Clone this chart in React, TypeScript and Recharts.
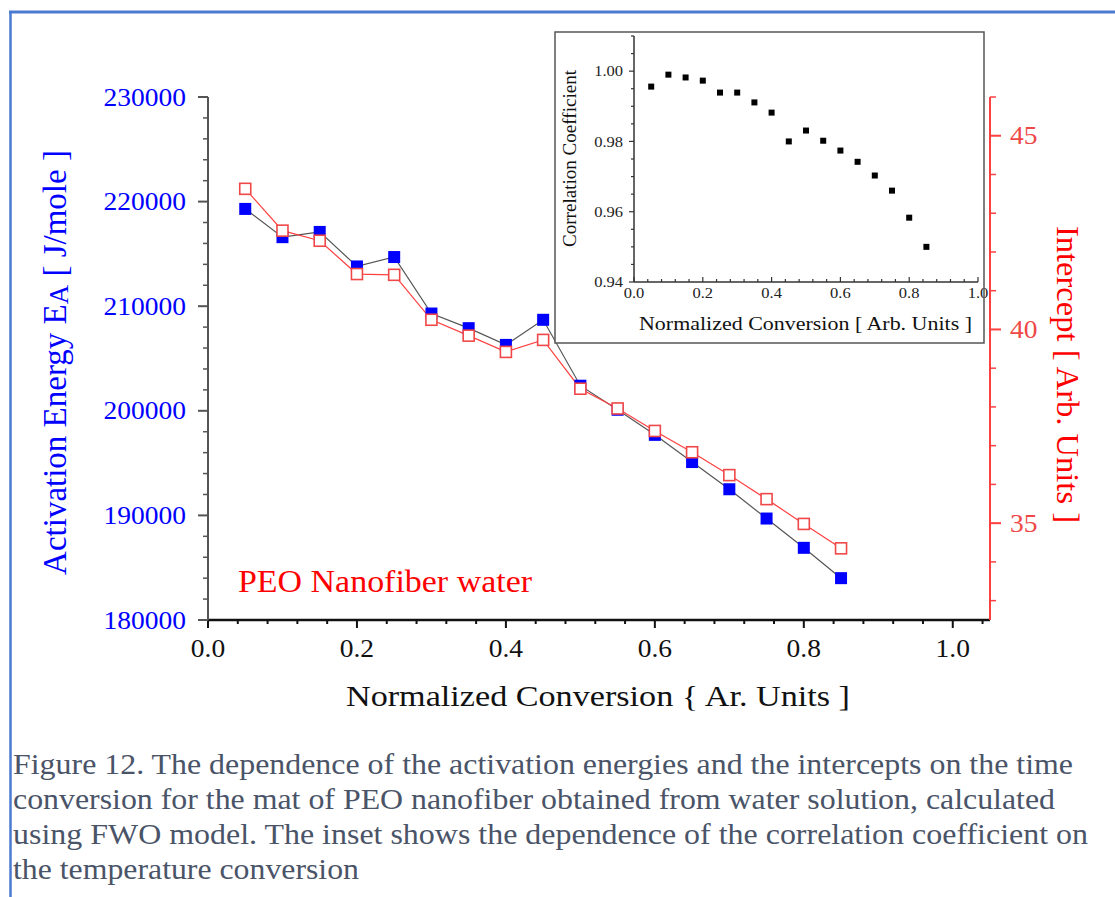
import React from 'react';
import { ComposedChart, ScatterChart, Line, Scatter, XAxis, YAxis } from 'recharts';

// ---------- data ----------
const conversion = [0.05, 0.1, 0.15, 0.2, 0.25, 0.3, 0.35, 0.4, 0.45, 0.5, 0.55, 0.6, 0.65, 0.7, 0.75, 0.8, 0.85];
const activationEnergy = [219300, 216600, 217100, 213800, 214700, 209300, 207900, 206300, 208700, 202400, 200100, 197700, 195100, 192500, 189700, 186900, 184000];
const intercept = [43.63, 42.55, 42.29, 41.43, 41.41, 40.25, 39.84, 39.42, 39.73, 38.47, 37.96, 37.38, 36.83, 36.24, 35.62, 34.98, 34.35];
const correlation = [0.9956, 0.999, 0.9982, 0.9973, 0.9939, 0.9939, 0.9911, 0.9882, 0.98, 0.9831, 0.9802, 0.9774, 0.9742, 0.9703, 0.966, 0.9583, 0.95];

// ---------- ticks ----------
const mainXMajor = [0, 0.2, 0.4, 0.6, 0.8, 1.0];
const leftMajor = [180000, 190000, 200000, 210000, 220000, 230000];
const rightMajor = [35, 40, 45];
const insetXMajor = [0, 0.2, 0.4, 0.6, 0.8, 1.0];
const insetYMajor = [0.94, 0.96, 0.98, 1.0];

const steps = (start: number, end: number, step: number) =>
  Array.from({ length: Math.round((end - start) / step) + 1 }, (_, i) => +(start + i * step).toFixed(4));

const mainXTicks = steps(0, 1.04, 0.04);
const leftTicks = steps(180000, 230000, 2000);
const rightTicks = steps(33, 46, 1);
const insetXTicks = steps(0, 1.0, 0.04);
const insetYTicks = steps(0.94, 1.01, 0.005);

const captionLines = [
  'Figure 12. The dependence of the activation energies and the intercepts on the time',
  'conversion for the mat of PEO nanofiber obtained from water solution, calculated',
  'using FWO model. The inset shows the dependence of the correlation coefficient on',
  'the temperature conversion',
];
const captionWidths = [1060, 1042, 1075, 346];

const mainData = conversion.map((x, i) => ({ x, ea: activationEnergy[i], ic: intercept[i] }));
const insetData = conversion.map((x, i) => ({ x, r: correlation[i] }));

// ---------- helpers ----------
const serif = '"Liberation Serif", "Times New Roman", Tinos, "Nimbus Roman", serif';
const sf = { fontFamily: serif } as const;
const isMajor = (majors: number[], v: number) => majors.some((m) => Math.abs(m - v) < 1e-9);
const numWidth = (s: string, fs: number) => {
  let w = 0;
  for (const c of s) w += c === '.' ? 0.25 : 0.5;
  return w * fs * 1.1;
};

const LeftTick = (p: any) => {
  const { x, y, payload } = p;
  const v = payload.value;
  if (!isMajor(leftMajor, v)) return <line x1={x - 5} x2={x} y1={y} y2={y} stroke="#555" strokeWidth={1.5} />;
  const s = String(v);
  return (
    <g>
      <line x1={x - 10} x2={x} y1={y} y2={y} stroke="#555" strokeWidth={2} />
      <text x={x - 22} y={y} dy="0.34em" textAnchor="end" fill="#0000ff" fontSize={25} style={sf}
        textLength={numWidth(s, 25)} lengthAdjust="spacingAndGlyphs">{s}</text>
    </g>
  );
};

const RightTick = (p: any) => {
  const { x, y, payload } = p;
  const v = payload.value;
  if (!isMajor(rightMajor, v)) return <line x1={x} x2={x + 6} y1={y} y2={y} stroke="#ff4040" strokeWidth={1.5} />;
  const s = String(v);
  return (
    <g>
      <line x1={x} x2={x + 11} y1={y} y2={y} stroke="#ff4040" strokeWidth={2} />
      <text x={x + 20} y={y} dy="0.34em" textAnchor="start" fill="#ee4848" fontSize={25} style={sf}
        textLength={numWidth(s, 25)} lengthAdjust="spacingAndGlyphs">{s}</text>
    </g>
  );
};

const BottomTick = (p: any) => {
  const { x, y, payload } = p;
  const v = payload.value;
  if (!isMajor(mainXMajor, v)) return <line x1={x} x2={x} y1={y} y2={y + 4} stroke="#111" strokeWidth={2} />;
  const s = v.toFixed(1);
  return (
    <g>
      <line x1={x} x2={x} y1={y} y2={y + 8} stroke="#111" strokeWidth={2} />
      <text x={x} y={y + 37} textAnchor="middle" fill="#111" fontSize={25} style={sf}
        textLength={numWidth(s, 25)} lengthAdjust="spacingAndGlyphs">{s}</text>
    </g>
  );
};

const InsetBottomTick = (p: any) => {
  const { x, y, payload } = p;
  const v = payload.value;
  if (!isMajor(insetXMajor, v)) return <line x1={x} x2={x} y1={y} y2={y - 3} stroke="#333" strokeWidth={1.2} />;
  const s = v.toFixed(1);
  return (
    <g>
      <line x1={x} x2={x} y1={y} y2={y - 5} stroke="#333" strokeWidth={1.2} />
      <text x={x} y={y + 16} textAnchor="middle" fill="#222" fontSize={15} style={sf}
        textLength={numWidth(s, 15)} lengthAdjust="spacingAndGlyphs">{s}</text>
    </g>
  );
};

const InsetLeftTick = (p: any) => {
  const { x, y, payload } = p;
  const v = payload.value;
  if (!isMajor(insetYMajor, v)) return <line x1={x - 3} x2={x} y1={y} y2={y} stroke="#333" strokeWidth={1.2} />;
  const s = v.toFixed(2);
  return (
    <g>
      <line x1={x - 5} x2={x} y1={y} y2={y} stroke="#333" strokeWidth={1.2} />
      <text x={x - 11} y={y} dy="0.34em" textAnchor="end" fill="#222" fontSize={15} style={sf}
        textLength={numWidth(s, 15)} lengthAdjust="spacingAndGlyphs">{s}</text>
    </g>
  );
};

const blueDot = (p: any) => (
  <rect key={`b${p.index}`} x={p.cx - 6} y={p.cy - 6} width={12} height={12} fill="#0000ff" />
);
const redDot = (p: any) => (
  <rect key={`r${p.index}`} x={p.cx - 5.5} y={p.cy - 5.5} width={11} height={11} fill="#ffffff" stroke="#f04848" strokeWidth={1.6} />
);
const insetDot = (p: any) => (
  <rect x={p.cx - 3} y={p.cy - 3} width={6} height={6} fill="#000" />
);

export default function App() {
  return (
    <div style={{ position: 'absolute', left: 0, top: 0, width: 1115, height: 897, background: '#fff' }}>
      <div style={{ position: 'absolute', left: 0, top: 0, zIndex: 1 }}>
        <ComposedChart width={1115} height={897} data={mainData} margin={{ top: 97, right: 0, bottom: 217, left: 0 }}>
          <XAxis dataKey="x" type="number" domain={[0, 1.05]} ticks={mainXTicks} interval={0} height={60}
            tickSize={0} tickMargin={0} tickLine={false} tick={BottomTick}
            axisLine={{ stroke: '#111', strokeWidth: 2.5 }} />
          <YAxis yAxisId="left" orientation="left" type="number" domain={[180000, 230000]} ticks={leftTicks}
            interval={0} width={208} tickSize={0} tickMargin={0} tickLine={false} tick={LeftTick}
            axisLine={{ stroke: '#555', strokeWidth: 2 }} />
          <YAxis yAxisId="right" orientation="right" type="number" domain={[32.5, 46]} ticks={rightTicks}
            interval={0} width={125} tickSize={0} tickMargin={0} tickLine={false} tick={RightTick}
            axisLine={{ stroke: '#ff4040', strokeWidth: 2 }} />
          <Line yAxisId="left" dataKey="ea" stroke="#555" strokeWidth={1.2} dot={blueDot} activeDot={false}
            isAnimationActive={false} />
          <Line yAxisId="right" dataKey="ic" stroke="#ff4040" strokeWidth={1.2} dot={redDot} activeDot={false}
            isAnimationActive={false} />
        </ComposedChart>
      </div>

      {/* inset background */}
      <div style={{ position: 'absolute', left: 555, top: 32, width: 429, height: 311, background: '#fff', zIndex: 2 }} />
      {/* inset chart (wider, transparent so the 1.0 label can overhang the frame) */}
      <div style={{ position: 'absolute', left: 555, top: 32, width: 445, height: 311, zIndex: 3 }}>
        <ScatterChart width={445} height={311} margin={{ top: 4, right: 22, bottom: 31, left: 0 }}>
          <XAxis dataKey="x" type="number" domain={[0, 1]} ticks={insetXTicks} interval={0} height={30}
            tickSize={0} tickMargin={0} tickLine={false} tick={InsetBottomTick}
            axisLine={{ stroke: '#333', strokeWidth: 1.5 }} />
          <YAxis dataKey="r" type="number" domain={[0.94, 1.01]} ticks={insetYTicks} interval={0} width={79}
            tickSize={0} tickMargin={0} tickLine={false} tick={InsetLeftTick}
            axisLine={{ stroke: '#333', strokeWidth: 1.5 }} />
          <Scatter data={insetData} dataKey="r" fill="#000" shape={insetDot} isAnimationActive={false} />
        </ScatterChart>
      </div>

      <svg width={1115} height={897} style={{ position: 'absolute', left: 0, top: 0, zIndex: 4, pointerEvents: 'none' }}>
        {/* page frame */}
        <line x1={9} x2={1115} y1={12} y2={12} stroke="#4a7bd0" strokeWidth={3} />
        <line x1={10.5} x2={10.5} y1={11} y2={897} stroke="#4a7bd0" strokeWidth={2.5} />

        {/* inset frame */}
        <rect x={555} y={32} width={429} height={311} fill="none" stroke="#555" strokeWidth={1.5} />

        {/* main titles */}
        <text transform="translate(55,362.5) rotate(-90)" textAnchor="middle" dominantBaseline="central"
          fill="#0000ff" fontSize={33} style={sf}>
          Activation Energy E<tspan fontSize={27} dy={4}>A</tspan><tspan dy={-4}> [ J/mole ]</tspan>
        </text>
        <text transform="translate(1068,374.5) rotate(90)" textAnchor="middle" dominantBaseline="central"
          fill="#ff0000" fontSize={32} style={sf} textLength={297} lengthAdjust="spacingAndGlyphs">
          Intercept [ Arb. Units ]
        </text>
        <text x={598} y={695} textAnchor="middle" dominantBaseline="central" fill="#111" fontSize={30}
          style={sf} textLength={504} lengthAdjust="spacingAndGlyphs">
          Normalized Conversion {'{'} Ar. Units ]
        </text>
        <text x={238} y={581} dominantBaseline="central" fill="#ff0000" fontSize={31} style={sf}
          textLength={294} lengthAdjust="spacingAndGlyphs">
          PEO Nanofiber water
        </text>

        {/* inset titles */}
        <text transform="translate(569,158.5) rotate(-90)" textAnchor="middle" dominantBaseline="central"
          fill="#111" fontSize={19} style={sf} textLength={177} lengthAdjust="spacingAndGlyphs">
          Correlation Coefficient
        </text>
        <text x={805.5} y={323} textAnchor="middle" dominantBaseline="central" fill="#111" fontSize={19}
          style={sf} textLength={333} lengthAdjust="spacingAndGlyphs">
          Normalized Conversion [ Arb. Units ]
        </text>

        {/* caption */}
        {captionLines.map((t, i) => (
          <text key={i} x={13} y={774 + i * 35} fill="#4a5468" fontSize={29} style={sf}
            textLength={captionWidths[i]} lengthAdjust="spacingAndGlyphs">{t}</text>
        ))}
      </svg>
    </div>
  );
}
